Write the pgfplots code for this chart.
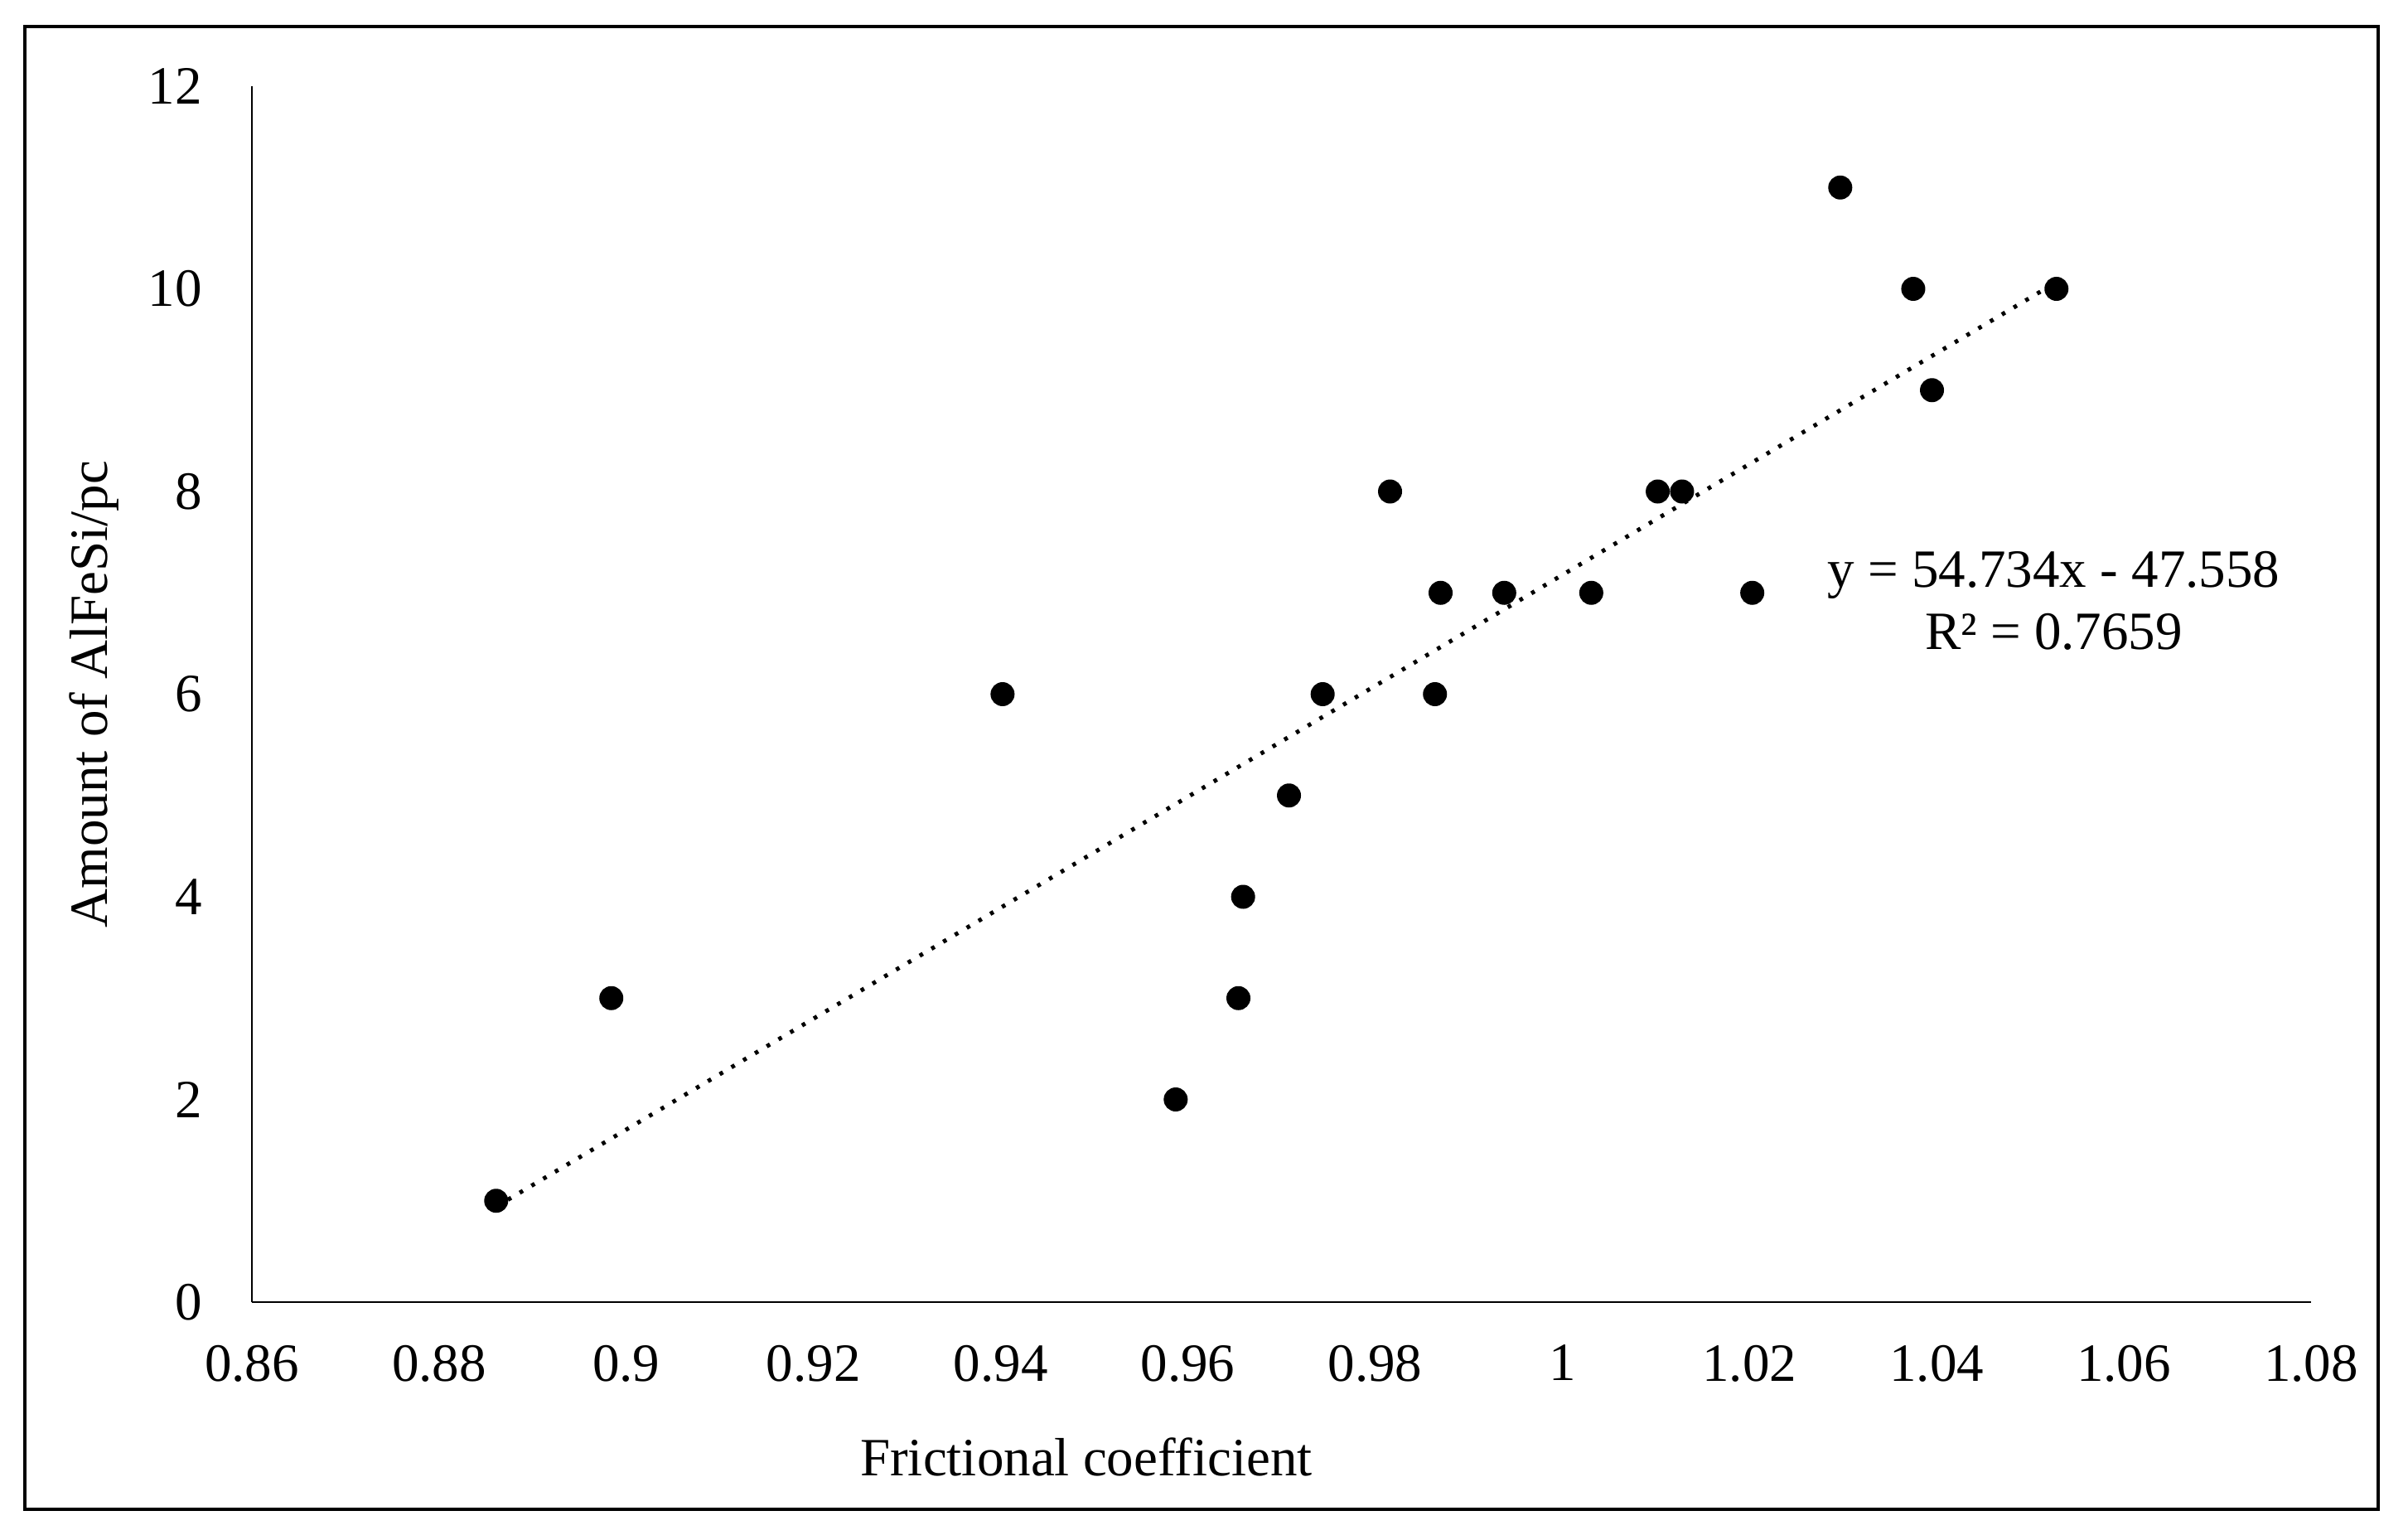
\documentclass[border=0pt]{standalone}
\usepackage{fontspec}
\setmainfont{Liberation Serif}
\usepackage{pgfplots}
\pgfplotsset{compat=1.18}
\newcommand{\chartfont}{\fontsize{13}{15}\selectfont}
\begin{document}
\begin{tikzpicture}
% page size and the outer frame
\path[use as bounding box] (-60.8pt,-56pt) rectangle (520.4pt,314.2pt);
\draw[line width=0.95pt] (-54.8pt,-50pt) rectangle (513.2pt,307.8pt);
\begin{axis}[
    at={(0pt,0pt)}, anchor=south west,
    scale only axis, width=497pt, height=293.4pt,
    xmin=0.86, xmax=1.08, ymin=0, ymax=12,
    axis x line=bottom, axis y line=left,
    axis line style={-, line width=0.55pt},
    xtick={0.86,0.88,0.9,0.92,0.94,0.96,0.98,1,1.02,1.04,1.06,1.08},
    ytick={0,2,4,6,8,10,12},
    major tick length=0pt,
    /pgf/number format/assume math mode=true,
    tick label style={font=\chartfont, inner sep=0pt},
    xticklabel style={yshift=-10.2pt},
    yticklabel style={xshift=-11.8pt},
    clip=false,
]
% linear trendline
\addplot[black, line width=1pt, dash pattern=on 0.9pt off 2.4pt]
    coordinates {(0.8861, 0.942) (1.0528, 10.066)};
\addplot[only marks, mark=*, mark size=2.7pt, black] coordinates {
    (0.8861, 1) (0.8984, 3) (0.9402, 6) (0.9587, 2) (0.9654, 3)
    (0.9659, 4) (0.9708, 5) (0.9744, 6) (0.9816, 8) (0.9864, 6)
    (0.9870, 7) (0.9938, 7) (1.0031, 7) (1.0102, 8) (1.0128, 8)
    (1.0203, 7) (1.0297, 11) (1.0375, 10) (1.0395, 9) (1.0528, 10)
};
\node[font=\chartfont, align=center] at (axis cs:1.0525,6.92)
    {y = 54.734x - 47.558\\R² = 0.7659};
\end{axis}
\node[font=\chartfont, anchor=base] at (201.4pt,-41.8pt) {Frictional coefficient};
\node[font=\chartfont, anchor=base, rotate=90] at (-34.8pt,146.7pt) {Amount of AlFeSi/pc};
\end{tikzpicture}
\end{document}
